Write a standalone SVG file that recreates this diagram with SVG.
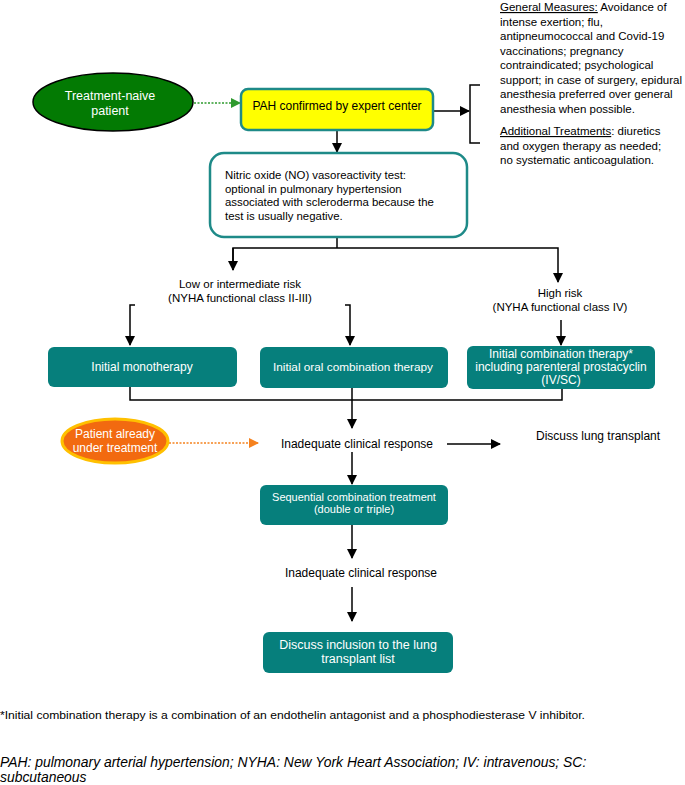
<svg xmlns="http://www.w3.org/2000/svg" width="685" height="785" viewBox="0 0 685 785">
<defs>
<marker id="ah" viewBox="0 0 10 10" refX="9" refY="5" markerWidth="10" markerHeight="10" markerUnits="userSpaceOnUse" orient="auto"><path d="M0,0 L10,5 L0,10 z" fill="#000"/></marker>
<marker id="ahg" viewBox="0 0 10 10" refX="9" refY="5" markerWidth="10" markerHeight="10" markerUnits="userSpaceOnUse" orient="auto"><path d="M0,0 L10,5 L0,10 z" fill="#2E9A2E"/></marker>
<marker id="aho" viewBox="0 0 10 10" refX="9" refY="5" markerWidth="10" markerHeight="10" markerUnits="userSpaceOnUse" orient="auto"><path d="M0,0 L10,5 L0,10 z" fill="#F5821F"/></marker>
</defs>
<style>
text{font-family:"Liberation Sans",Arial,sans-serif;fill:#000}
.c{text-anchor:middle}
.w{fill:#fff}
.teal{fill:#067F7C;stroke:none}
.ln{stroke:#000;stroke-width:1.5;fill:none}
.u{text-decoration:underline}
</style>
<rect width="685" height="785" fill="#fff"/>

<g id="connectors">
<line class="ln" x1="194" y1="103" x2="240" y2="103" style="stroke:#2E9A2E" stroke-dasharray="2,1.5" marker-end="url(#ahg)"/>
<line class="ln" x1="433" y1="111" x2="469" y2="111" marker-end="url(#ah)"/>
<path class="ln" d="M480,85 H470 V143 H480"/>
<line class="ln" x1="337" y1="130" x2="337" y2="152" marker-end="url(#ah)"/>
<path class="ln" d="M337,237 V248"/>
<path class="ln" d="M233,270 V248 H558 V282" marker-end="url(#ah)"/>
<line class="ln" x1="233" y1="248" x2="233" y2="270" marker-end="url(#ah)"/>
<path class="ln" d="M135,305 H130 V345" marker-end="url(#ah)"/>
<path class="ln" d="M345,305 H350 V345" marker-end="url(#ah)"/>
<line class="ln" x1="561" y1="320" x2="561" y2="345" marker-end="url(#ah)"/>
<path class="ln" d="M130,387 V400 H562 V388"/>
<line class="ln" x1="352" y1="388" x2="352" y2="428" marker-end="url(#ah)"/>
<line class="ln" x1="169" y1="443" x2="258" y2="443" style="stroke:#F5821F" stroke-dasharray="2,1.5" marker-end="url(#aho)"/>
<line class="ln" x1="447" y1="444" x2="500" y2="444" marker-end="url(#ah)"/>
<line class="ln" x1="352" y1="452" x2="352" y2="484" marker-end="url(#ah)"/>
<line class="ln" x1="352" y1="525" x2="352" y2="558" marker-end="url(#ah)"/>
<line class="ln" x1="352" y1="587" x2="352" y2="621" marker-end="url(#ah)"/>
</g>

<g id="treatment-naive">
<ellipse cx="113" cy="102" rx="80" ry="29" fill="#037A03" stroke="#000" stroke-width="1.5"/>
<text class="c w" x="110" y="100" font-size="12.5">Treatment-naive</text>
<text class="c w" x="110" y="115" font-size="12.5">patient</text>
</g>

<g id="pah-confirmed">
<rect x="241" y="89" width="192" height="41" rx="7" fill="#FFFF00" stroke="#1E8A88" stroke-width="2.5"/>
<text class="c" x="337" y="110" font-size="12">PAH confirmed by expert center</text>
</g>

<g id="measures">
<text x="500" y="11" font-size="11.5"><tspan class="u">General Measures:</tspan> Avoidance of</text>
<text x="500" y="25.5" font-size="11.5">intense exertion; flu,</text>
<text x="500" y="40" font-size="11.5">antipneumococcal and Covid-19</text>
<text x="500" y="54.5" font-size="11.5">vaccinations; pregnancy</text>
<text x="500" y="69" font-size="11.5">contraindicated; psychological</text>
<text x="500" y="83.5" font-size="11.5">support; in case of surgery, epidural</text>
<text x="500" y="98" font-size="11.5">anesthesia preferred over general</text>
<text x="500" y="112.5" font-size="11.5">anesthesia when possible.</text>
<text x="500" y="135" font-size="11.5"><tspan class="u">Additional Treatments</tspan>: diuretics</text>
<text x="500" y="149.5" font-size="11.5">and oxygen therapy as needed;</text>
<text x="500" y="164" font-size="11.5">no systematic anticoagulation.</text>
</g>

<g id="no-test">
<rect x="210" y="153" width="257" height="84" rx="14" fill="#fff" stroke="#1E8A88" stroke-width="2.5"/>
<text x="225" y="179" font-size="11.4">Nitric oxide (NO) vasoreactivity test:</text>
<text x="225" y="192.5" font-size="11.4">optional in pulmonary hypertension</text>
<text x="225" y="206" font-size="11.4">associated with scleroderma because the</text>
<text x="225" y="219.5" font-size="11.4">test is usually negative.</text>
</g>

<g id="low-risk">
<text class="c" x="240" y="288" font-size="11.5">Low or intermediate risk</text>
<text class="c" x="240" y="302" font-size="11.5">(NYHA functional class II-III)</text>
</g>

<g id="high-risk">
<text class="c" x="560" y="297" font-size="11.5">High risk</text>
<text class="c" x="560" y="311" font-size="11.5">(NYHA functional class IV)</text>
</g>

<g id="monotherapy">
<rect class="teal" x="48" y="347" width="189" height="40" rx="6"/>
<text class="c w" x="142" y="371" font-size="12">Initial monotherapy</text>
</g>

<g id="oral-combination">
<rect class="teal" x="260" y="347" width="188" height="41" rx="6"/>
<text class="c w" x="353" y="371" font-size="11.8">Initial oral combination therapy</text>
</g>

<g id="initial-combination">
<rect class="teal" x="467" y="346" width="188" height="43" rx="6"/>
<text class="c w" x="561" y="358" font-size="12">Initial combination therapy*</text>
<text class="c w" x="561" y="371" font-size="12">including parenteral prostacyclin</text>
<text class="c w" x="561" y="384" font-size="12">(IV/SC)</text>
</g>

<g id="already-treated">
<ellipse cx="115" cy="441" rx="53" ry="22" fill="#F26A10" stroke="#FFC000" stroke-width="3"/>
<text class="c w" x="115" y="438" font-size="12">Patient already</text>
<text class="c w" x="115" y="452" font-size="12">under treatment</text>
</g>

<g id="inadequate-1">
<text class="c" x="357" y="448" font-size="12">Inadequate clinical response</text>
</g>

<g id="discuss-transplant">
<text x="536" y="440" font-size="12">Discuss lung transplant</text>
</g>

<g id="sequential">
<rect class="teal" x="260" y="485" width="188" height="40" rx="6"/>
<text class="c w" x="354" y="501" font-size="11">Sequential combination treatment</text>
<text class="c w" x="354" y="513" font-size="11">(double or triple)</text>
</g>

<g id="inadequate-2">
<text class="c" x="361" y="577" font-size="12">Inadequate clinical response</text>
</g>

<g id="transplant-list">
<rect class="teal" x="263" y="632" width="190" height="41" rx="6"/>
<text class="c w" x="358" y="649" font-size="12.5">Discuss inclusion to the lung</text>
<text class="c w" x="358" y="663" font-size="12.5">transplant list</text>
</g>

<g id="footnotes">
<text x="0" y="719" font-size="11" textLength="585" lengthAdjust="spacingAndGlyphs">*Initial combination therapy is a combination of an endothelin antagonist and a phosphodiesterase V inhibitor.</text>
<text x="0" y="767" font-size="13.9" font-style="italic">PAH: pulmonary arterial hypertension; NYHA: New York Heart Association; IV: intravenous; SC:</text>
<text x="0" y="782" font-size="13.9" font-style="italic">subcutaneous</text>
</g>
</svg>
